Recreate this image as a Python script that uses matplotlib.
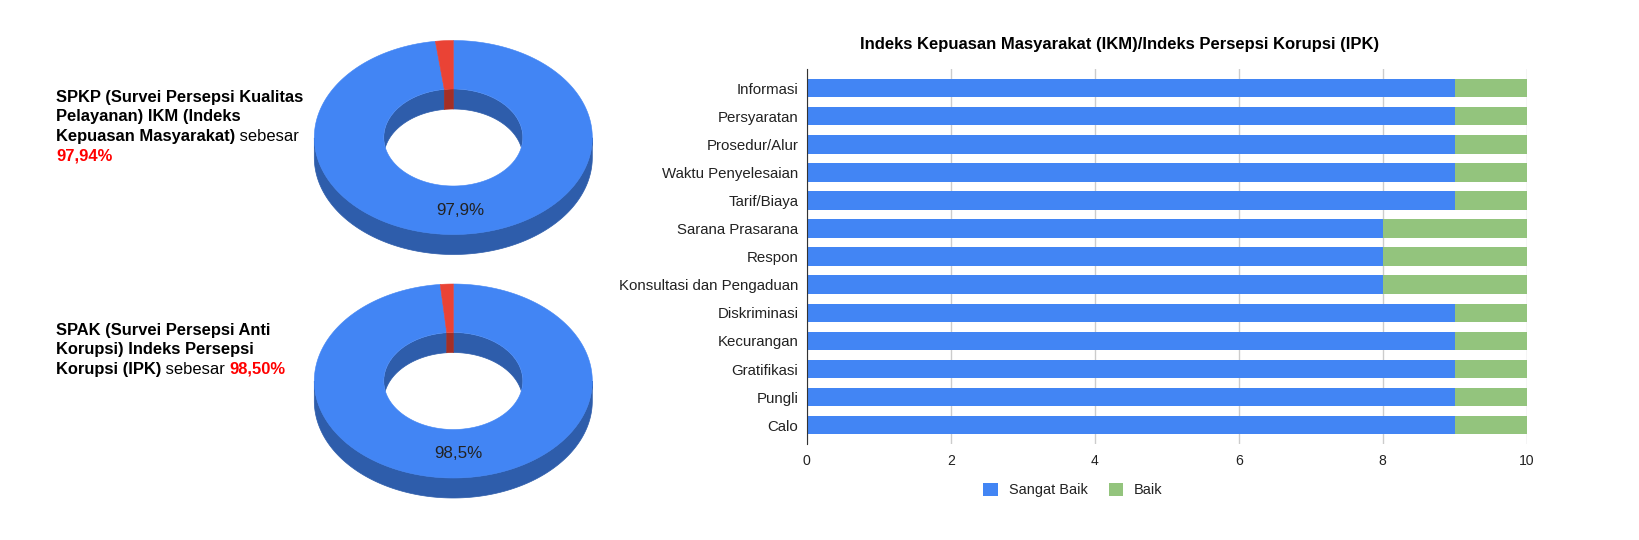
import numpy as np
import matplotlib

matplotlib.use("Agg")
import matplotlib.pyplot as plt
from matplotlib.patches import Polygon, Ellipse

plt.rcParams["font.family"] = ["Liberation Sans", "DejaVu Sans"]

W, H = 1640, 540

# survey totals shown in the two donuts (percent)
spkp_values = [97.94, 2.06]
spak_values = [98.50, 1.50]
spkp_total = "97,94%"
spak_total = "98,50%"

# bar chart: number of answers per aspect
aspects = [
    "Informasi",
    "Persyaratan",
    "Prosedur/Alur",
    "Waktu Penyelesaian",
    "Tarif/Biaya",
    "Sarana Prasarana",
    "Respon",
    "Konsultasi dan Pengaduan",
    "Diskriminasi",
    "Kecurangan",
    "Gratifikasi",
    "Pungli",
    "Calo",
]
sangat_baik = [9, 9, 9, 9, 9, 8, 8, 8, 9, 9, 9, 9, 9]
baik = [1, 1, 1, 1, 1, 2, 2, 2, 1, 1, 1, 1, 1]
series_names = ["Sangat Baik", "Baik"]
bar_title = "Indeks Kepuasan Masyarakat (IKM)/Indeks Persepsi Korupsi (IPK)"

BLUE = "#4285F4"
GREEN = "#93C47D"
RED = "#EA4335"
top_colors = [BLUE, RED]
wall_colors = ["#2E5DAB", "#A42F25"]


def px(size):
    # pixel font size -> points at dpi 100
    return size * 0.72


def ring_pts(cx, cy, rx, ry, t):
    return np.column_stack([cx + rx * np.cos(t), cy - ry * np.sin(t)])


def true_runs(mask):
    idx = np.flatnonzero(np.diff(np.r_[0, mask.astype(int), 0]))
    return zip(idx[::2], idx[1::2])


def draw_donut(ax, values, cx, cy, rx, ry, depth, hole=0.5):
    values = np.asarray(values, dtype=float)
    fracs = values / values.sum()
    # google style: start at 12 o'clock, go clockwise
    bounds = np.pi / 2 - 2 * np.pi * np.r_[0, np.cumsum(fracs)]
    rxi, ryi = rx * hole, ry * hole
    hole_clip = Ellipse((cx, cy), 2 * rxi, 2 * ryi, transform=ax.transData)

    for i, frac in enumerate(fracs):
        t0, t1 = bounds[i], bounds[i + 1]
        n = max(int(abs(t1 - t0) / 0.004), 3)
        t = np.linspace(t0, t1, n)
        s = np.sin(t)

        # outer side, front half only
        for a, b in true_runs(s <= 1e-9):
            if b - a < 2:
                continue
            top = ring_pts(cx, cy, rx, ry, t[a:b])
            low = top + [0, depth]
            ax.add_patch(Polygon(np.vstack([top, low[::-1]]), closed=True,
                                 fc=wall_colors[i], ec=wall_colors[i], lw=0.5, zorder=1))

        # inner wall, back half only, seen through the hole
        for a, b in true_runs(s >= -1e-9):
            if b - a < 2:
                continue
            top = ring_pts(cx, cy, rxi, ryi, t[a:b])
            low = top + [0, depth]
            wall = Polygon(np.vstack([top, low[::-1]]), closed=True,
                           fc=wall_colors[i], ec=wall_colors[i], lw=0.5, zorder=2)
            ax.add_patch(wall)
            wall.set_clip_path(hole_clip)

        # top face
        outer = ring_pts(cx, cy, rx, ry, t)
        inner = ring_pts(cx, cy, rxi, ryi, t[::-1])
        ax.add_patch(Polygon(np.vstack([outer, inner]), closed=True,
                             fc=top_colors[i], ec=top_colors[i], lw=0.4, zorder=3))

        if frac > 0.05:
            tm = (t0 + t1) / 2
            r = (1 + hole) / 2
            label = f"{frac * 100:.1f}%".replace(".", ",")
            ax.text(cx + r * rx * np.cos(tm), cy - r * ry * np.sin(tm), label,
                    ha="center", va="center", fontsize=px(17), color="#222222", zorder=4)


def rich_line(ax, x, y, parts, size):
    prev = None
    for text, weight, color in parts:
        if prev is None:
            prev = ax.text(x, y, text, fontsize=size, weight=weight, color=color,
                           ha="left", va="baseline")
        else:
            prev = ax.annotate(text, xy=(1, 0), xycoords=prev, fontsize=size,
                               weight=weight, color=color, ha="left", va="bottom")


def main():
    fig = plt.figure(figsize=(W / 100, H / 100), dpi=100)

    # pixel-space canvas for donuts and side texts
    canvas = fig.add_axes([0, 0, 1, 1])
    canvas.set_xlim(0, W)
    canvas.set_ylim(H, 0)
    canvas.axis("off")

    draw_donut(canvas, spkp_values, 453.3, 137.5, 139, 97, 20)
    draw_donut(canvas, spak_values, 453.3, 381.0, 139, 97, 20)

    size = px(16.5)
    k, lh = "#000000", 19.4
    red = "#FF0000"
    x0 = 56
    block1 = [
        [("SPKP (Survei Persepsi Kualitas", "bold", k)],
        [("Pelayanan) IKM (Indeks", "bold", k)],
        [("Kepuasan Masyarakat)", "bold", k), (" sebesar", "normal", k)],
        [(spkp_total, "bold", red)],
    ]
    for j, parts in enumerate(block1):
        rich_line(canvas, x0, 102 + j * lh, parts, size)

    block2 = [
        [("SPAK (Survei Persepsi Anti", "bold", k)],
        [("Korupsi) Indeks Persepsi", "bold", k)],
        [("Korupsi (IPK)", "bold", k), (" sebesar ", "normal", k), (spak_total, "bold", red)],
    ]
    for j, parts in enumerate(block2):
        rich_line(canvas, x0, 335 + j * lh, parts, size)

    # stacked bar chart
    ax = fig.add_axes([806.7 / W, 1 - 444 / H, 720 / W, 374.7 / H])
    y = np.arange(len(aspects))
    ax.barh(y, sangat_baik, height=0.66, color=BLUE, label=series_names[0], zorder=2)
    ax.barh(y, baik, left=sangat_baik, height=0.66, color=GREEN,
            label=series_names[1], zorder=2)
    ax.set_xlim(0, 10)
    ax.set_ylim(len(aspects) - 1 + 0.67, -0.67)
    ax.set_xticks(range(0, 11, 2))
    ax.set_yticks(y)
    ax.set_yticklabels(aspects)
    ax.grid(axis="x", color="#cccccc", lw=1)
    ax.set_axisbelow(True)
    for side in ["top", "right", "bottom"]:
        ax.spines[side].set_visible(False)
    ax.spines["left"].set_color("#333333")
    ax.spines["left"].set_zorder(3)
    ax.tick_params(axis="y", length=0, pad=6, labelsize=px(15), labelcolor="#222222")
    ax.tick_params(axis="x", length=0, pad=7, labelsize=px(14), labelcolor="#222222")

    fig.text(860 / W, 1 - 49.3 / H, bar_title, ha="left", va="baseline",
             fontsize=px(16.6), weight="bold", color="#000000")

    handles, labels = ax.get_legend_handles_labels()
    fig.legend(handles, labels, loc="center", bbox_to_anchor=(1073 / W, 1 - 490 / H),
               ncol=2, frameon=False, handlelength=1.0, handleheight=1.0,
               handletextpad=0.76, columnspacing=1.45, fontsize=px(14.5),
               borderpad=0, labelcolor="#222222")

    fig.savefig("out.png", dpi=100, facecolor="white")


if __name__ == "__main__":
    main()
